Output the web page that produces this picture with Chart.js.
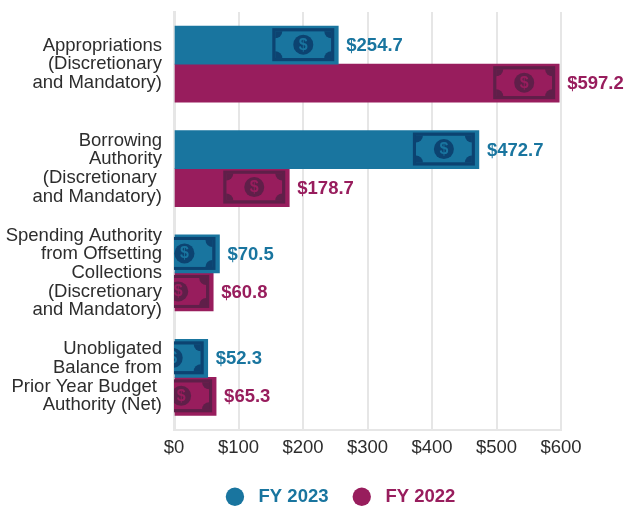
<!DOCTYPE html>
<html>
<head>
<meta charset="utf-8">
<style>
  html, body { margin: 0; padding: 0; background: #fff; }
  canvas { display: block; }
</style>
</head>
<body>
<canvas id="budgetChart" width="624" height="506"></canvas>
<script src="https://cdn.jsdelivr.net/npm/chart.js@4"></script>
<script>
const categories = [
    ['Appropriations', '(Discretionary', 'and Mandatory)'],
    ['Borrowing', 'Authority', '(Discretionary ', 'and Mandatory)'],
    ['Spending Authority', 'from Offsetting', 'Collections', '(Discretionary', 'and Mandatory)'],
    ['Unobligated', 'Balance from', 'Prior Year Budget ', 'Authority (Net)']
];
const fy2023 = [254.7, 472.7, 70.5, 52.3];
const fy2022 = [597.2, 178.7, 60.8, 65.3];

const blue = '#19759f';
const blueDark = '#0c4371';
const maroon = '#981d5d';
const maroonDark = '#5f1f49';
const fontName = '"Liberation Sans", Arial, sans-serif';

// money bill at the end of each bar, cut off at the axis on the short ones
function drawBill(c, right, mid, color, dark) {
    const top = mid - 17;
    const l = right - 63;
    const r = right - 7;
    const t = top + 3;
    const b = top + 30;
    c.fillStyle = dark;
    c.fillRect(right - 66, top, 62, 33);

    c.save();
    c.beginPath();
    c.rect(l, t, r - l, b - t);
    c.clip();
    c.fillStyle = color;
    c.fillRect(l, t, r - l, b - t);
    c.fillStyle = dark;
    [[l, t], [r, t], [l, b], [r, b]].forEach(p => {
        c.beginPath();
        c.arc(p[0], p[1], 7, 0, Math.PI * 2);
        c.fill();
    });
    c.restore();

    c.fillStyle = dark;
    c.beginPath();
    c.arc(right - 35, top + 16.5, 10, 0, Math.PI * 2);
    c.fill();
    c.fillStyle = color;
    c.font = 'bold 16px ' + fontName;
    c.textAlign = 'center';
    c.textBaseline = 'middle';
    c.fillText('$', right - 35, top + 17);
}

const barExtras = {
    id: 'barExtras',
    afterLayout(chart) {
        // legend sits under the whole picture, not under the plot
        const legend = chart.legend;
        legend.left += 60;
        legend.right += 60;
        legend.top += 10;
        legend.bottom += 10;
        // tick labels are clipped to the axis box, so give them room again
        chart.scales.x.bottom += 20;
    },
    afterDatasetsDraw(chart) {
        const c = chart.ctx;
        const area = chart.chartArea;
        chart.data.datasets.forEach((ds, i) => {
            chart.getDatasetMeta(i).data.forEach((bar, j) => {
                c.save();
                c.beginPath();
                c.rect(area.left, area.top, area.right - area.left + 5, area.bottom - area.top);
                c.clip();
                drawBill(c, bar.x, bar.y, ds.backgroundColor, ds.billColor);
                c.restore();

                c.save();
                c.fillStyle = ds.backgroundColor;
                c.font = 'bold 18.5px ' + fontName;
                c.textAlign = 'left';
                c.textBaseline = 'middle';
                c.fillText('$' + ds.data[j].toFixed(1), bar.x + 8, bar.y + 1);
                c.restore();
            });
        });
    }
};

new Chart(document.getElementById('budgetChart'), {
    type: 'bar',
    data: {
        labels: categories,
        datasets: [
            { label: 'FY 2023', data: fy2023, backgroundColor: blue, billColor: blueDark, barThickness: 38 },
            { label: 'FY 2022', data: fy2022, backgroundColor: maroon, billColor: maroonDark, barThickness: 38 }
        ]
    },
    options: {
        indexAxis: 'y',
        responsive: false,
        animation: false,
        layout: { padding: { top: 12, right: 63, bottom: 0, left: 0 } },
        scales: {
            x: {
                min: 0,
                max: 600,
                afterFit(scale) { scale.height = 24; },
                ticks: {
                    stepSize: 100,
                    padding: 7,
                    color: '#2d2d2d',
                    font: { family: fontName, size: 18.5 },
                    callback: v => '$' + v
                },
                grid: { color: '#e6e6e6', lineWidth: 2, drawTicks: false },
                border: { color: '#e6e6e6', width: 2 }
            },
            y: {
                afterFit(scale) {
                    scale.width = 174;
                    scale.paddingTop = 0;
                    scale.paddingBottom = 0;
                },
                ticks: {
                    autoSkip: false,
                    padding: 4,
                    color: '#2d2d2d',
                    font: { family: fontName, size: 18.5, lineHeight: 1.01 }
                },
                grid: { display: false },
                border: { color: '#e6e6e6', width: 3 }
            }
        },
        plugins: {
            legend: {
                position: 'bottom',
                labels: {
                    usePointStyle: true,
                    boxHeight: 13,
                    padding: 24,
                    font: { family: fontName, size: 18.5, weight: 'bold' },
                    generateLabels(chart) {
                        return chart.data.datasets.map((ds, i) => ({
                            text: ' ' + ds.label,
                            fillStyle: ds.backgroundColor,
                            strokeStyle: ds.backgroundColor,
                            fontColor: ds.backgroundColor,
                            pointStyle: 'circle',
                            lineWidth: 0,
                            datasetIndex: i
                        }));
                    }
                }
            },
            tooltip: { enabled: false }
        }
    },
    plugins: [barExtras]
});
</script>
</body>
</html>
